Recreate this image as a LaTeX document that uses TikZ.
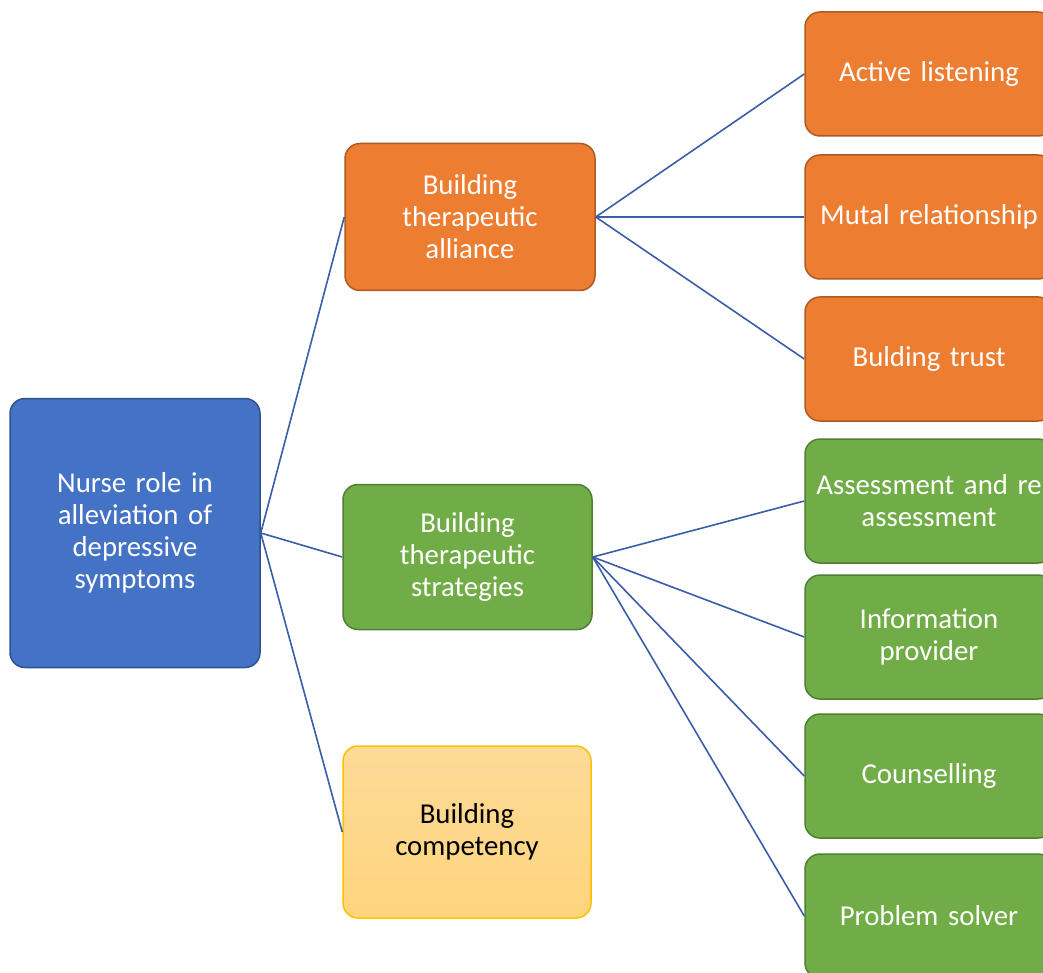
\documentclass[tikz,border=0pt]{standalone}
\usepackage{fontspec}
\setmainfont{Carlito}
\definecolor{bluefill}{HTML}{4472C4}
\definecolor{blueline}{HTML}{2F528F}
\definecolor{orangefill}{HTML}{ED7D31}
\definecolor{orangeline}{HTML}{AE5A21}
\definecolor{greenfill}{HTML}{70AD47}
\definecolor{greenline}{HTML}{507E32}
\definecolor{yellowtop}{HTML}{FDDA97}
\definecolor{yellowbot}{HTML}{FED57D}
\definecolor{yellowline}{HTML}{FFC000}
\definecolor{connector}{HTML}{3A5DA8}
\begin{document}
\begin{tikzpicture}[x=1pt,y=-1pt,
  box/.style={rounded corners=15pt, line width=1.5pt, align=center, text width=#1,
     inner sep=0pt, font=\fontsize{28.8}{32}\selectfont, text=white},
  box/.default=240pt,
  rootbox/.style={box, fill=bluefill, draw=blueline, minimum width=250pt, minimum height=269pt},
  midorange/.style={box, fill=orangefill, draw=orangeline, minimum width=250pt, minimum height=147pt},
  midgreen/.style={box, fill=greenfill, draw=greenline, minimum width=249pt, minimum height=145pt},
  midyellow/.style={box, top color=yellowtop, bottom color=yellowbot, draw=yellowline, text=black, minimum width=248pt, minimum height=172pt},
  leaforange/.style={box=246pt, fill=orangefill, draw=orangeline, minimum width=248pt, minimum height=124pt},
  leafgreen/.style={box=246pt, fill=greenfill, draw=greenline, minimum width=248pt, minimum height=124pt},
  link/.style={draw=connector, line width=1.6pt}]
\useasboundingbox (0,0) rectangle (1043,973);
\clip (0,0) rectangle (1043,973);
\node[rootbox] (root) at (135,533) {Nurse role in\\alleviation of\\depressive\\symptoms};
\node[midorange] (alliance) at (470,217) {Building\\therapeutic\\alliance};
\node[midgreen] (strategies) at (467.5,557) {Building\\therapeutic\\strategies};
\node[midyellow] (competency) at (467,832) {Building\\competency};
\node[leaforange] (l1) at (929,74) {Active listening};
\node[leaforange] (l2) at (929,217) {Mutal relationship};
\node[leaforange] (l3) at (929,359) {Bulding trust};
\node[leafgreen] (g1) at (929,501) {Assessment and re\\assessment};
\node[leafgreen] (g2) at (929,637) {Information\\provider};
\node[leafgreen] (g3) at (929,776) {Counselling};
\node[leafgreen] (g4) at (929,916) {Problem solver};
\draw[link] (root.east) -- (alliance.west);
\draw[link] (root.east) -- (strategies.west);
\draw[link] (root.east) -- (competency.west);
\draw[link] (alliance.east) -- (l1.west);
\draw[link] (alliance.east) -- (l2.west);
\draw[link] (alliance.east) -- (l3.west);
\draw[link] (strategies.east) -- (g1.west);
\draw[link] (strategies.east) -- (g2.west);
\draw[link] (strategies.east) -- (g3.west);
\draw[link] (strategies.east) -- (g4.west);
\end{tikzpicture}
\end{document}
